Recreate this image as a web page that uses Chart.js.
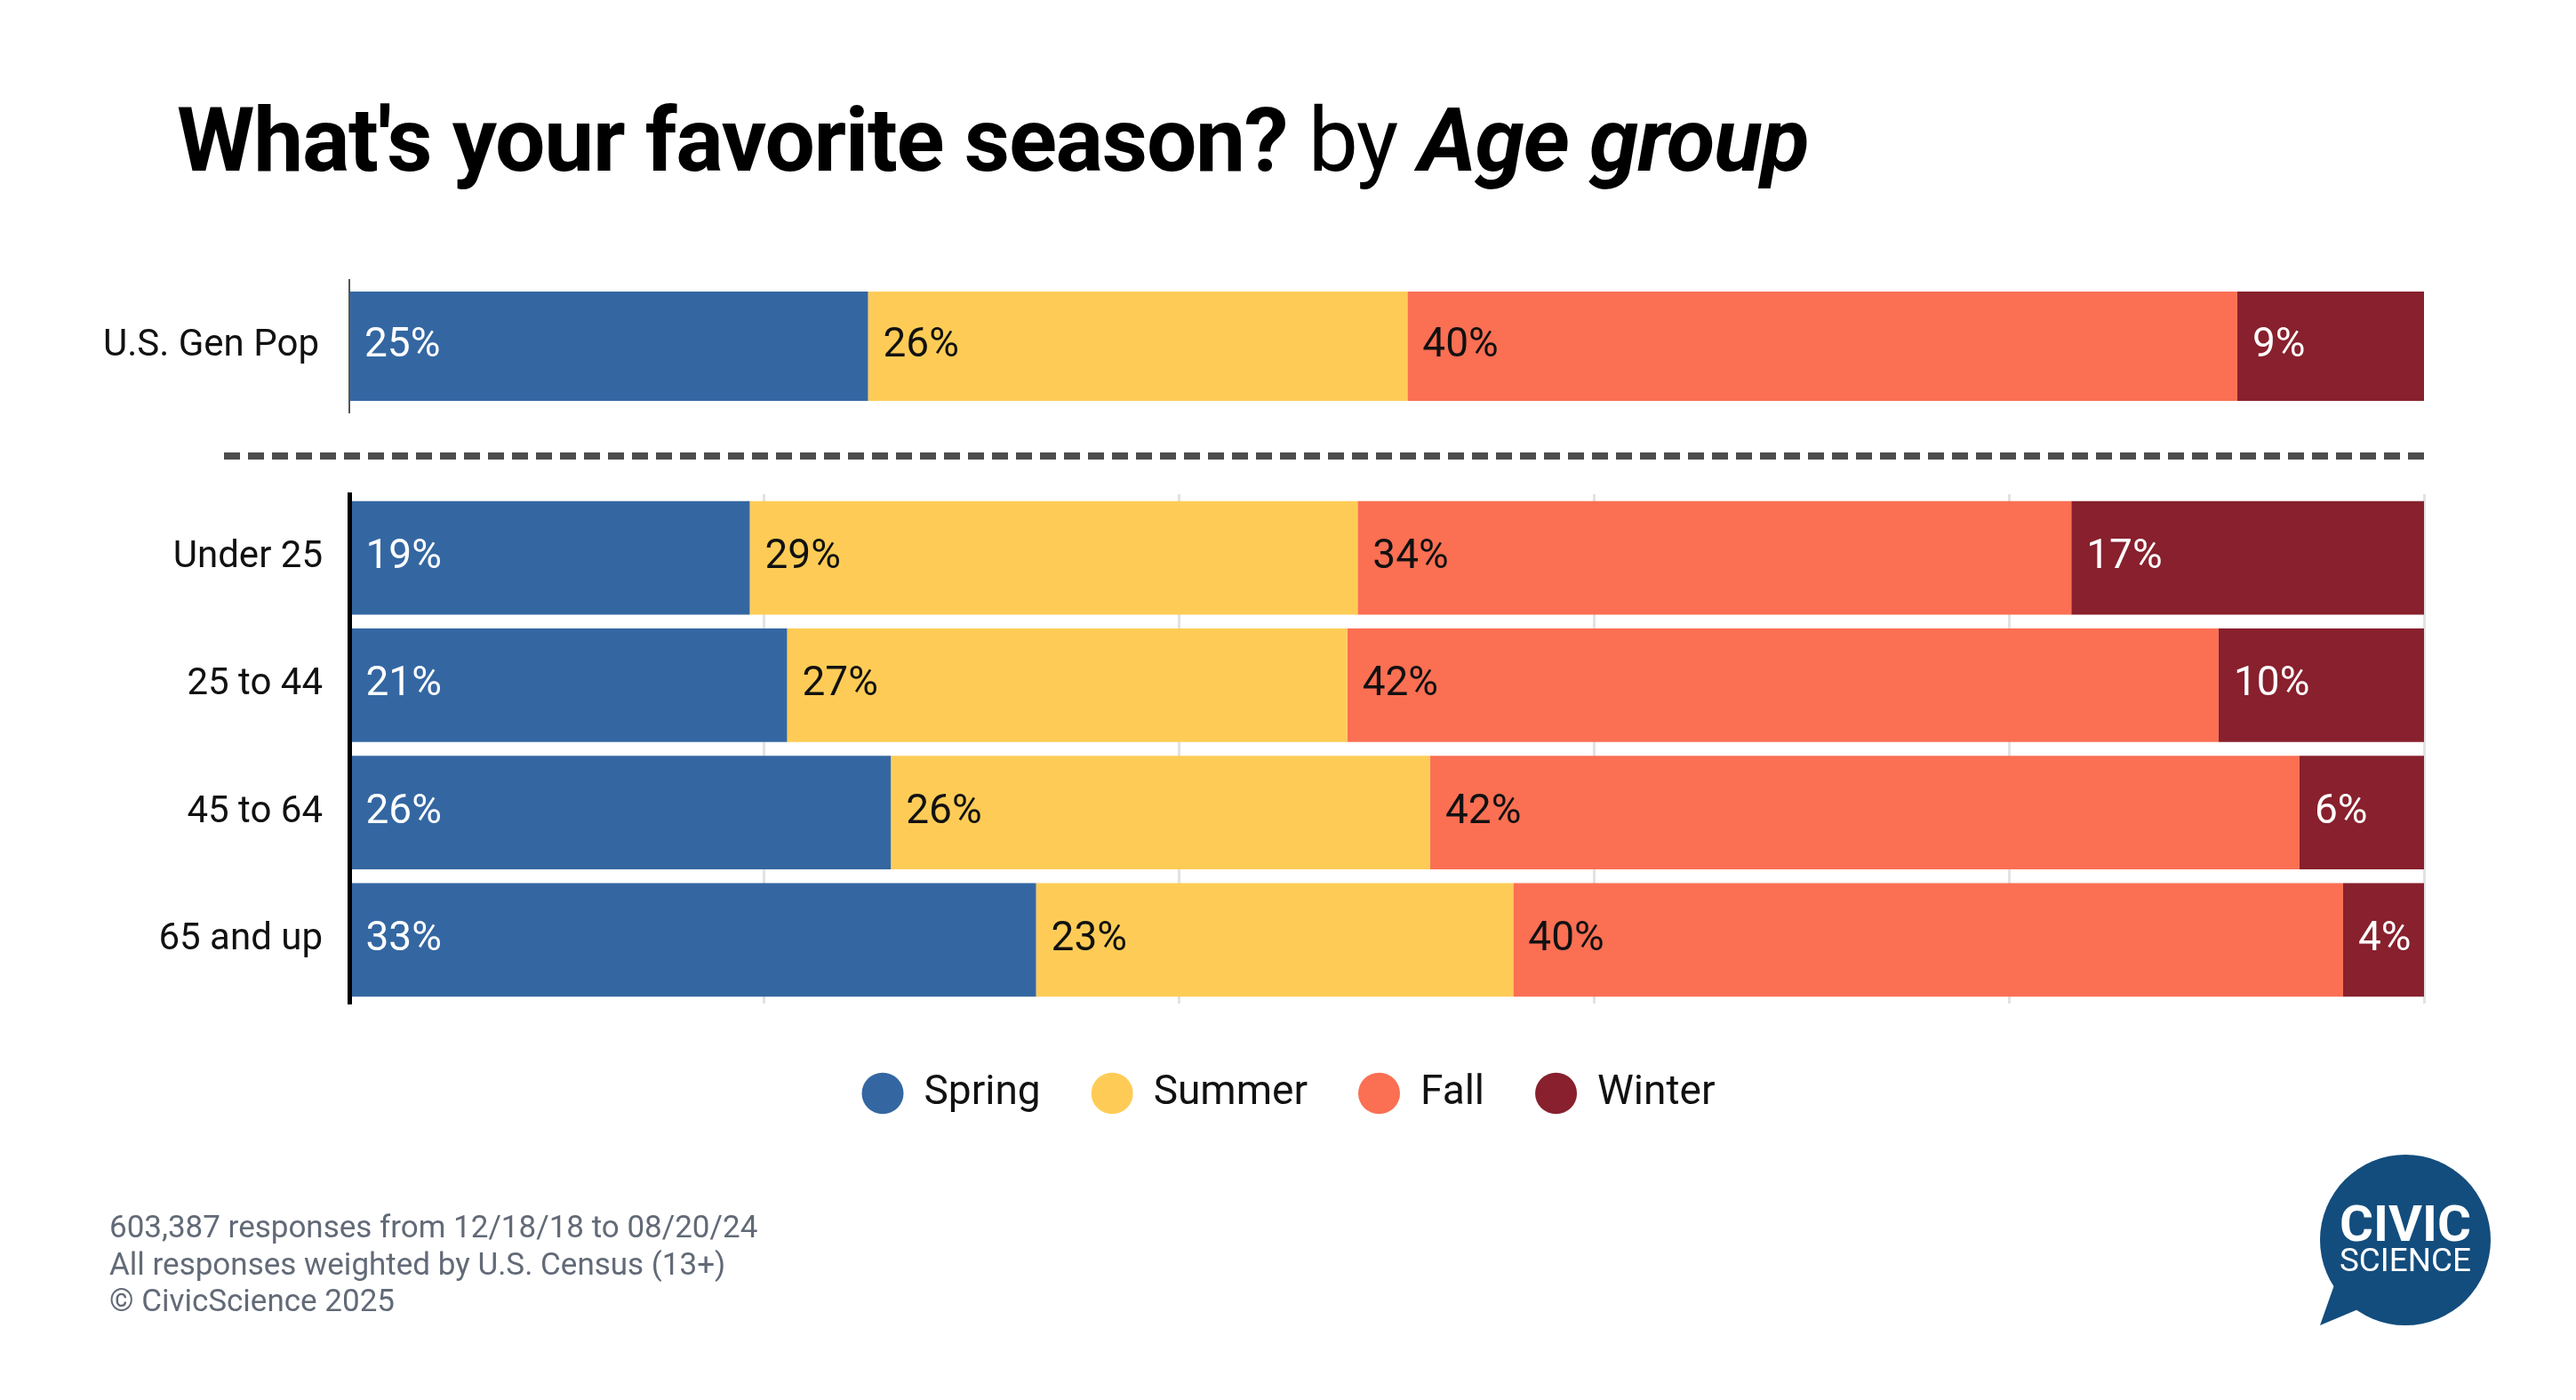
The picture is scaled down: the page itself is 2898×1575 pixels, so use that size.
<!DOCTYPE html>
<html>
<head>
<meta charset="utf-8">
<script src="https://cdn.jsdelivr.net/npm/chart.js@4.4.1/dist/chart.umd.min.js"></script>
<style>
  body { margin: 0; background: #fff; font-family: Roboto, sans-serif; }
  #page { position: relative; width: 2898px; height: 1575px; overflow: hidden; background: #fff; }
  .abs { position: absolute; }
  #title { left: 199px; top: 108px; font-size: 100px; line-height: 100px; letter-spacing: -1.3px; color: #000; white-space: nowrap; }
  #title b { font-weight: 700; }
  #title .by { font-weight: 400; }
  #title i { font-weight: 700; font-style: italic; }
  #genpop { left: 0; top: 300px; width: 2898px; height: 180px; }
  #ages { left: 0; top: 540px; width: 2898px; height: 723px; }
  #notes { left: 123px; top: 1360px; font-size: 35px; line-height: 41.5px; color: #626a77; }
</style>
</head>
<body>
<div id="page">
  <div id="title" class="abs"><b>What's your favorite season?</b> <span class="by">by</span> <i>Age group</i></div>

  <div id="genpop" class="abs"><canvas id="genpopChart"></canvas></div>

  <svg class="abs" style="left:0;top:0" width="2898" height="1575">
    <line x1="252" y1="513" x2="2727" y2="513" stroke="#4d4d4d" stroke-width="8" stroke-dasharray="18 9"/>
  </svg>

  <div id="ages" class="abs"><canvas id="agesChart"></canvas></div>

  <div id="notes" class="abs">
    603,387 responses from 12/18/18 to 08/20/24<br>
    All responses weighted by U.S. Census (13+)<br>
    © CivicScience 2025
  </div>

  <svg class="abs" style="left:0;top:0" width="2898" height="1575">
    <circle cx="2706" cy="1395" r="96" fill="#134d7d"/>
    <polygon points="2628,1440 2610,1491 2660,1470" fill="#134d7d"/>
    <text x="2706" y="1396" text-anchor="middle" font-family="Roboto" font-weight="700" font-size="56" fill="#fff" textLength="148" lengthAdjust="spacingAndGlyphs">CIVIC</text>
    <text x="2706" y="1430" text-anchor="middle" font-family="Roboto" font-weight="400" font-size="36" fill="#fff" textLength="148" lengthAdjust="spacingAndGlyphs">SCIENCE</text>
  </svg>
</div>

<script>
// categorias: la primera es la población general, el resto por edad
const categories = ['U.S. Gen Pop', 'Under 25', '25 to 44', '45 to 64', '65 and up'];
const seasons = ['Spring', 'Summer', 'Fall', 'Winter'];

const springValues = [25.0, 19.3, 21.1, 26.1, 33.1];
const summerValues = [26.0, 29.3, 27.0, 26.0, 23.0];
const fallValues   = [40.0, 34.4, 42.0, 41.9, 40.0];
const winterValues = [9.0, 17.0, 9.9, 6.0, 3.9];

const seasonColors = ['#3467a2', '#fecc56', '#fb6f53', '#88202d'];
const labelColors  = ['#ffffff', '#111111', '#111111', '#ffffff'];

Chart.defaults.font.family = 'Roboto';
Chart.defaults.color = '#111';

// etiquetas de porcentaje dentro de cada barra
const barLabels = {
  id: 'barLabels',
  afterDatasetsDraw(chart) {
    const ctx = chart.ctx;
    ctx.save();
    ctx.font = '46px Roboto';
    ctx.textBaseline = 'middle';
    ctx.textAlign = 'left';
    chart.data.datasets.forEach(function (ds, i) {
      chart.getDatasetMeta(i).data.forEach(function (bar, j) {
        ctx.fillStyle = labelColors[i];
        ctx.fillText(Math.round(ds.data[j]) + '%', bar.base + 17, bar.y);
      });
    });
    ctx.restore();
  }
};

function makeDatasets(from, to, pct) {
  const all = [springValues, summerValues, fallValues, winterValues];
  return seasons.map(function (name, i) {
    return {
      label: name,
      data: all[i].slice(from, to),
      backgroundColor: seasonColors[i],
      borderWidth: 0,
      barPercentage: pct,
      categoryPercentage: 1
    };
  });
}

// ancho fijo del eje y, sin el relleno que añade por las etiquetas
function fixAxis(width) {
  return function (s) {
    s.width = width;
    s.paddingTop = 0;
    s.paddingBottom = 0;
  };
}

function drawCharts() {
  new Chart(document.getElementById('genpopChart'), {
    type: 'bar',
    data: { labels: categories.slice(0, 1), datasets: makeDatasets(0, 1, 0.825) },
    plugins: [barLabels],
    options: {
      indexAxis: 'y',
      responsive: true,
      maintainAspectRatio: false,
      animation: false,
      layout: { padding: { top: 15, bottom: 16, right: 171 } },
      plugins: { legend: { display: false }, tooltip: { enabled: false } },
      scales: {
        x: { stacked: true, min: 0, max: 100, display: false },
        y: {
          stacked: true,
          afterFit: fixAxis(393),
          grid: { display: false, drawTicks: false },
          border: { display: true, color: '#555', width: 2, z: 1 },
          ticks: { padding: 34, font: { size: 42 }, color: '#111' }
        }
      }
    }
  });

  new Chart(document.getElementById('agesChart'), {
    type: 'bar',
    data: { labels: categories.slice(1), datasets: makeDatasets(1, 5, 0.891) },
    plugins: [barLabels],
    options: {
      indexAxis: 'y',
      responsive: true,
      maintainAspectRatio: false,
      animation: false,
      layout: { padding: { top: 16, bottom: 0, left: 172, right: 171 } },
      plugins: {
        tooltip: { enabled: false },
        legend: {
          position: 'bottom',
          labels: {
            usePointStyle: true,
            pointStyle: 'circle',
            boxHeight: 33,
            pointStyleWidth: 47,
            padding: 57,
            font: { size: 46 },
            color: '#111'
          }
        }
      },
      scales: {
        x: {
          stacked: true,
          min: 0,
          max: 100,
          afterFit: function (s) { s.height = 21; },
          ticks: { display: false, stepSize: 20 },
          grid: { color: '#e2e2e2', lineWidth: 3, drawTicks: false },
          border: { display: false }
        },
        y: {
          stacked: true,
          afterFit: fixAxis(221),
          grid: { display: false, drawTicks: false },
          border: { display: true, color: '#000', width: 5, z: 1 },
          ticks: { padding: 30, font: { size: 42 }, color: '#111' }
        }
      }
    }
  });
}

document.fonts.load('46px Roboto').then(drawCharts, drawCharts);
</script>
</body>
</html>
